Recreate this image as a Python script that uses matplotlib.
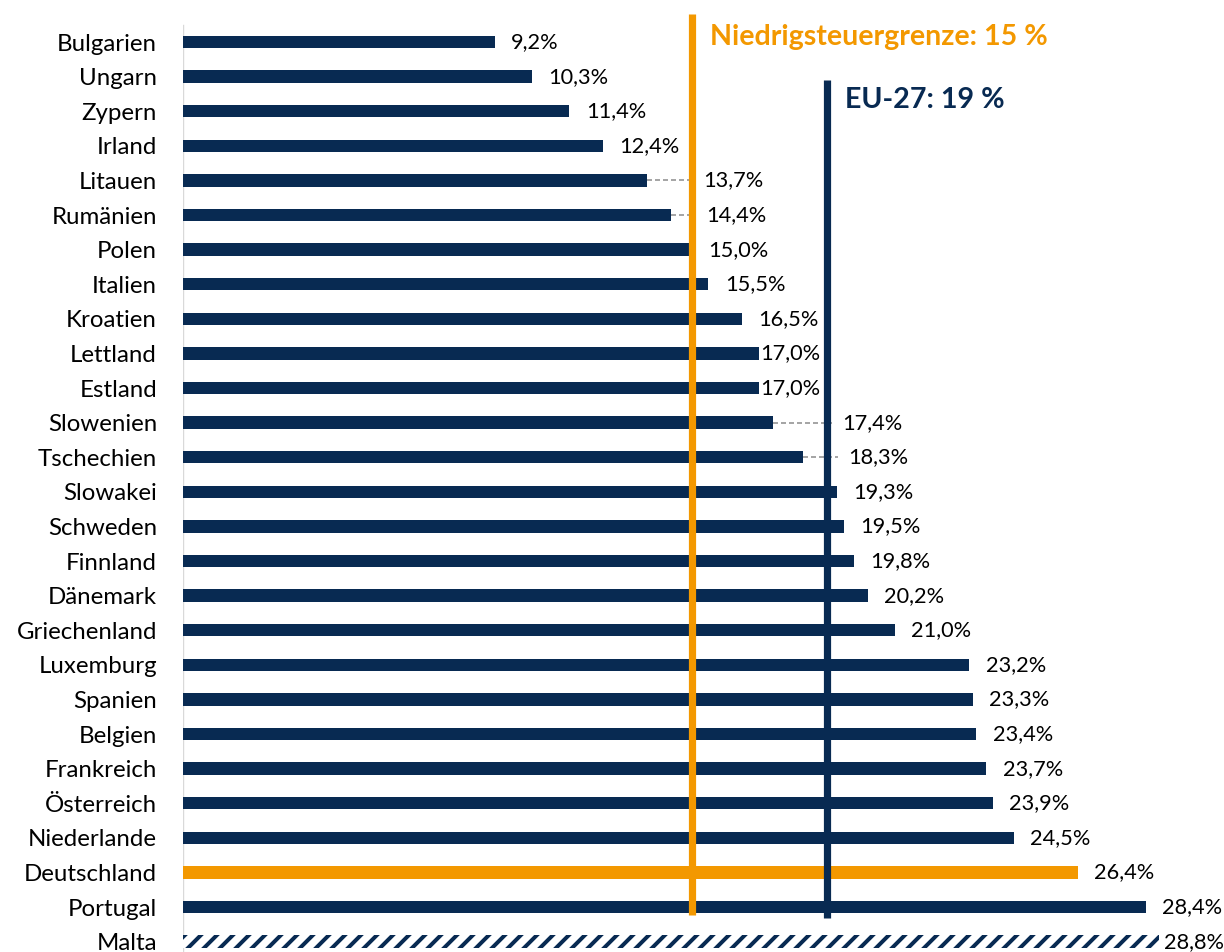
import matplotlib
matplotlib.use("Agg")
from matplotlib import pyplot as plt

plt.rcParams['font.family'] = ['Lato', 'DejaVu Sans']
plt.rcParams['hatch.linewidth'] = 2.0

# Effective corporate tax rates in the EU (%)
countries = ["Bulgarien", "Ungarn", "Zypern", "Irland", "Litauen", "Rumänien", "Polen",
             "Italien", "Kroatien", "Lettland", "Estland", "Slowenien", "Tschechien",
             "Slowakei", "Schweden", "Finnland", "Dänemark", "Griechenland", "Luxemburg",
             "Spanien", "Belgien", "Frankreich", "Österreich", "Niederlande",
             "Deutschland", "Portugal", "Malta"]
rates = [9.2, 10.3, 11.4, 12.4, 13.7, 14.4, 15.0, 15.5, 16.5, 17.0, 17.0, 17.4, 18.3,
         19.3, 19.5, 19.8, 20.2, 21.0, 23.2, 23.3, 23.4, 23.7, 23.9, 24.5, 26.4, 28.4, 28.8]
low_tax_limit = 15
eu_average = 19

navy = "#082A52"
orange = "#F39800"
grey = "#A6A6A6"

# labels that were moved off their bar (with leader lines)
label_x = {"Litauen": 15.35, "Rumänien": 15.42, "Lettland": 17.02, "Estland": 17.02,
           "Slowenien": 19.45, "Tschechien": 19.62, "Malta": 28.95}
leaders = ["Litauen", "Rumänien", "Slowenien", "Tschechien"]

fig = plt.figure(figsize=(8.5, 952 / 144), dpi=144)
ax = fig.add_axes([183 / 1224, 0, 1041 / 1224, 1])

pos = list(range(len(countries)))
for i, (c, v) in enumerate(zip(countries, rates)):
    if c == "Malta":
        ax.barh(i, v, height=0.36, color="white", edgecolor=navy, hatch="///", linewidth=0)
    elif c == "Deutschland":
        ax.barh(i, v, height=0.36, color=orange)
    else:
        ax.barh(i, v, height=0.36, color=navy)

    lx = label_x.get(c, v + 0.48)
    if c in leaders:
        ax.plot([v, lx - 0.3], [i, i], color=grey, lw=1, dashes=(2.5, 1.5), zorder=1)
    ax.text(lx, i, f"{v:.1f}%".replace(".", ","), va="center", ha="left",
            fontsize=10.9, color="#000000", clip_on=False)

ax.plot([0, 0], [-0.46, 26.4], color="#D9D9D9", lw=1.2, zorder=0)
ax.plot([low_tax_limit, low_tax_limit], [-0.81, 25.23], color=orange, lw=3.6,
        solid_capstyle="butt", zorder=3)
ax.plot([eu_average, eu_average], [1.10, 25.32], color=navy, lw=3.6,
        solid_capstyle="butt", zorder=3)

ax.text(15.55, 0.09, f"Niedrigsteuergrenze: {low_tax_limit} %", color=orange,
        fontsize=14.3, fontweight="bold", va="baseline")
ax.text(19.53, 1.91, f"EU-27: {eu_average} %", color=navy,
        fontsize=14.3, fontweight="bold", va="baseline")

ax.set_xlim(0, 1041 / 33.9)
ax.set_ylim(26.30, -1.214)
ax.set_yticks(pos)
ax.set_yticklabels(countries, fontsize=12.0, color="#000000")
ax.tick_params(axis="y", length=0, pad=13)
ax.set_xticks([])
for s in ax.spines.values():
    s.set_visible(False)

fig.savefig("out.png", dpi=144)
